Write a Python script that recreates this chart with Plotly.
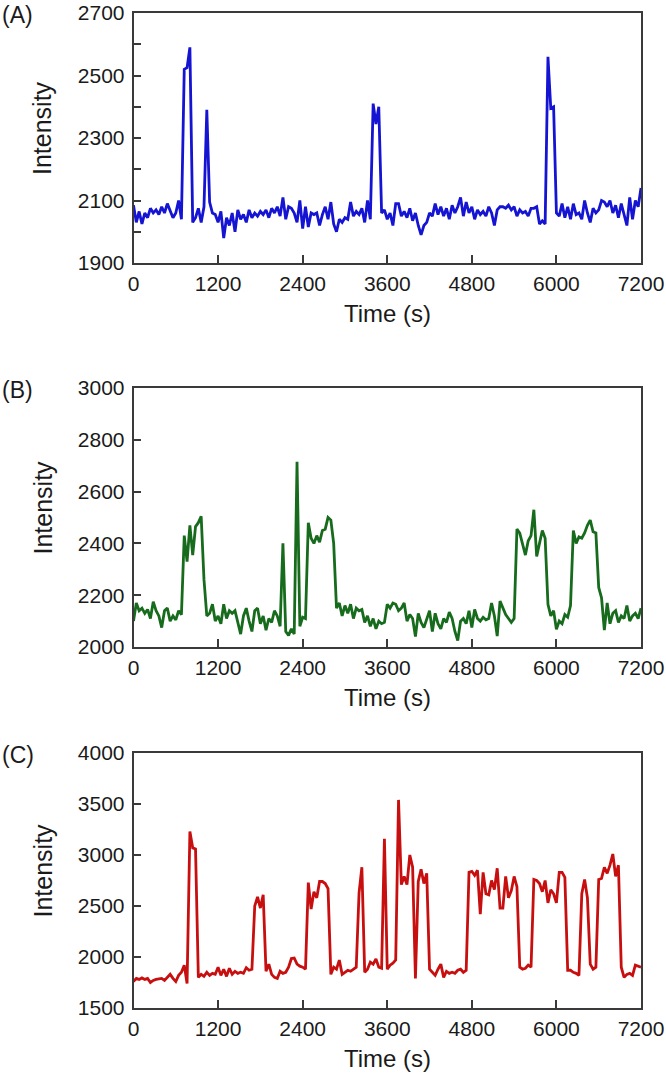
import plotly.graph_objects as go

STEP = 40
time_s = [i * STEP for i in range(181)]

intensity_A = [
    2085, 2030, 2065, 2025, 2060, 2045, 2075, 2060, 2070, 2055,
    2080, 2060, 2090, 2070, 2045, 2060, 2100, 2040, 2520, 2525,
    2590, 2030, 2045, 2075, 2030, 2080, 2390, 2095, 2060, 2055,
    2030, 2065, 1980, 2045, 2020, 2060, 2000, 2070, 2040, 2055,
    2030, 2070, 2045, 2060, 2050, 2065, 2055, 2070, 2045, 2075,
    2060, 2080, 2050, 2110, 2040, 2080, 2075, 2060, 2030, 2100,
    2010, 2080, 2015, 2060, 2055, 2060, 2020, 2055, 2080, 2040,
    2095, 2025, 2000, 2040, 2030, 2045, 2040, 2095, 2050, 2065,
    2055, 2075, 2030, 2100, 2040, 2410, 2345, 2400, 2060, 2070,
    2040, 2060, 2020, 2090, 2090, 2050, 2065, 2045, 2075, 2035,
    2060, 2020, 1990, 2020, 2030, 2060, 2050, 2090, 2055, 2080,
    2050, 2075, 2040, 2085, 2060, 2080, 2110, 2050, 2095, 2060,
    2080, 2040, 2070, 2055, 2065, 2050, 2080, 2060, 2020, 2070,
    2080, 2080, 2075, 2085, 2070, 2080, 2050, 2070, 2060, 2065,
    2050, 2075, 2075, 2080, 2025, 2035, 2025, 2560, 2395, 2400,
    2060, 2050, 2090, 2045, 2080, 2040, 2090, 2055, 2060, 2040,
    2100, 2060, 2030, 2075, 2060, 2070, 2100, 2095, 2080, 2100,
    2060, 2085, 2045, 2090, 2050, 2020, 2110, 2040, 2100, 2080,
    2140,
]

intensity_B = [
    2100, 2170, 2140, 2150, 2130, 2145, 2110, 2175, 2140, 2120,
    2075, 2140, 2150, 2100, 2120, 2105, 2140, 2125, 2430, 2330,
    2470, 2355, 2465, 2480, 2505, 2260, 2120, 2130, 2165, 2100,
    2120, 2090, 2165, 2110, 2140, 2130, 2140, 2100, 2050, 2120,
    2150, 2100, 2060, 2140, 2150, 2090, 2120, 2065, 2110, 2095,
    2140, 2120, 2080, 2400, 2060, 2045, 2070, 2050, 2715, 2080,
    2115, 2110, 2480, 2420, 2400, 2430, 2405, 2450, 2455, 2500,
    2490, 2400, 2150, 2170, 2120, 2160, 2130, 2165, 2110, 2150,
    2140, 2145, 2095, 2120, 2080, 2110, 2070, 2100, 2090, 2095,
    2165, 2150, 2170, 2165, 2140, 2150, 2170, 2100, 2125, 2110,
    2040, 2130, 2095, 2075, 2110, 2140, 2060, 2130, 2090, 2070,
    2110, 2095, 2135, 2110, 2060, 2025, 2100, 2110, 2090, 2140,
    2075, 2145, 2110, 2100, 2115, 2105, 2110, 2170, 2120, 2042,
    2177, 2150, 2125, 2110, 2095, 2110, 2455, 2440, 2400, 2355,
    2410, 2430, 2530, 2350, 2400, 2450, 2420, 2165, 2120, 2140,
    2068, 2100, 2090, 2125, 2115, 2160, 2450, 2400, 2425, 2420,
    2440, 2470, 2490, 2445, 2440, 2230, 2190, 2065, 2170, 2090,
    2130, 2140, 2095, 2120, 2110, 2160, 2100, 2120, 2130, 2110,
    2150,
]

intensity_C = [
    1760, 1790, 1780, 1795, 1780, 1790, 1750, 1770, 1780, 1785,
    1790, 1770, 1800, 1830, 1790, 1760, 1820, 1850, 1920, 1740,
    3230, 3070, 3060, 1800, 1830, 1810, 1850, 1820, 1840, 1830,
    1900, 1820, 1880, 1810, 1890, 1830, 1860, 1840, 1850, 1840,
    1895, 1870, 1880, 2500, 2590, 2480, 2610, 1860, 1930, 1830,
    1800, 1790, 1860, 1840, 1850, 1900, 1985, 1990, 1930, 1910,
    1900, 1880, 2730, 2470, 2640, 2580, 2740, 2740, 2720, 2670,
    1830, 1900, 1880, 1970, 1830, 1850, 1870, 1860, 1880, 1900,
    2630, 2880, 1850, 1880, 1950, 1930, 1980, 1900, 1890, 3160,
    1880, 1920, 1940, 1970, 3540, 2710, 2790, 2710, 3000, 2880,
    1790, 2740, 2860, 2720, 2820, 1880, 1850, 1820, 1880, 1930,
    1800, 1860, 1840, 1850, 1840, 1870, 1880, 1850, 1870, 2830,
    2840, 2800, 2850, 2420, 2830, 2620, 2610, 2750, 2660, 2870,
    2480, 2480, 2790, 2580, 2650, 2790, 2690, 1900, 1880, 1890,
    1920, 1900, 2760, 2750, 2720, 2640, 2750, 2530, 2660, 2620,
    2530, 2830, 2830, 2780, 1870, 1870, 1850, 1840, 1820, 2620,
    2760, 2580, 1930, 1880, 1900, 2760, 2770, 2880, 2820, 2900,
    3010, 2790, 2900, 1900, 1800, 1830, 1840, 1820, 1920, 1910,
    1900,
]

panel_labels = ["(A)", "(B)", "(C)"]
line_colors = ["#1414d2", "#176b1c", "#c80f0f"]
y_ranges = [[1900, 2700], [2000, 3000], [1500, 4000]]
y_dticks = [200, 200, 500]
y_minor = [100, None, None]
x_ticks = [0, 1200, 2400, 3600, 4800, 6000, 7200]
x_title = "Time (s)"
y_title = "Intensity"

W, H = 666, 1073
x_dom = [133.5 / W, 641 / W]
# plot areas in pixels from top: (top, bottom)
px_areas = [(13, 263), (388, 647), (753, 1008)]

FONT = "Liberation Sans, Arial, Helvetica, sans-serif"
TXT = "#1a1a1a"
fig = go.Figure()

series = [intensity_A, intensity_B, intensity_C]
for k in range(3):
    n = k + 1
    xa = "x" if n == 1 else f"x{n}"
    ya = "y" if n == 1 else f"y{n}"
    fig.add_trace(go.Scatter(
        x=time_s, y=series[k], mode="lines",
        line=dict(color=line_colors[k], width=2.8),
        xaxis=xa, yaxis=ya, showlegend=False,
    ))
    top, bot = px_areas[k]
    ydom = [1 - bot / H, 1 - top / H]
    axis_common = dict(
        showgrid=False, zeroline=False, showline=True, mirror=True,
        automargin=False, ticklabeloverflow="allow",
        linecolor="#3a3a3a", linewidth=1.5, ticks="inside", ticklen=8,
        tickwidth=1.5, tickcolor="#3a3a3a",
        tickfont=dict(family=FONT, size=21, color=TXT),
    )
    xkey = "xaxis" if n == 1 else f"xaxis{n}"
    ykey = "yaxis" if n == 1 else f"yaxis{n}"
    xaxis = dict(axis_common, domain=x_dom, range=[0, 7200],
                 tickmode="array", tickvals=x_ticks,
                 ticklabelstandoff=1, anchor=ya)
    yaxis = dict(axis_common, domain=ydom, range=y_ranges[k],
                 tick0=y_ranges[k][0], dtick=y_dticks[k],
                 ticklabelstandoff=3, anchor=xa)
    if y_minor[k]:
        yaxis["minor"] = dict(dtick=y_minor[k], tick0=y_ranges[k][0],
                              ticks="inside", ticklen=8, tickwidth=1.5,
                              tickcolor="#3a3a3a", showgrid=False)
    fig.update_layout({xkey: xaxis, ykey: yaxis})

    # axis titles and panel labels
    fig.add_annotation(text=x_title, xref="paper", yref="paper",
                       x=(x_dom[0] + x_dom[1]) / 2, y=1 - (bot + 50) / H,
                       showarrow=False, font=dict(family=FONT, size=24, color=TXT),
                       xanchor="center", yanchor="middle")
    fig.add_annotation(text=y_title, xref="paper", yref="paper",
                       x=42 / W, y=1 - ((top + bot) / 2 - 10) / H, textangle=-90,
                       showarrow=False, font=dict(family=FONT, size=25, color=TXT),
                       xanchor="center", yanchor="middle")
    fig.add_annotation(text=panel_labels[k], xref="paper", yref="paper",
                       x=0, y=1 - (top + 2) / H,
                       showarrow=False, font=dict(family=FONT, size=23, color=TXT),
                       xanchor="left", yanchor="middle")

fig.update_layout(
    width=W, height=H, margin=dict(l=0, r=0, t=0, b=0, autoexpand=False),
    paper_bgcolor="white", plot_bgcolor="white",
)
fig.write_html("out.html", config={"displayModeBar": False},
               post_script="document.body.style.margin='0px';")
